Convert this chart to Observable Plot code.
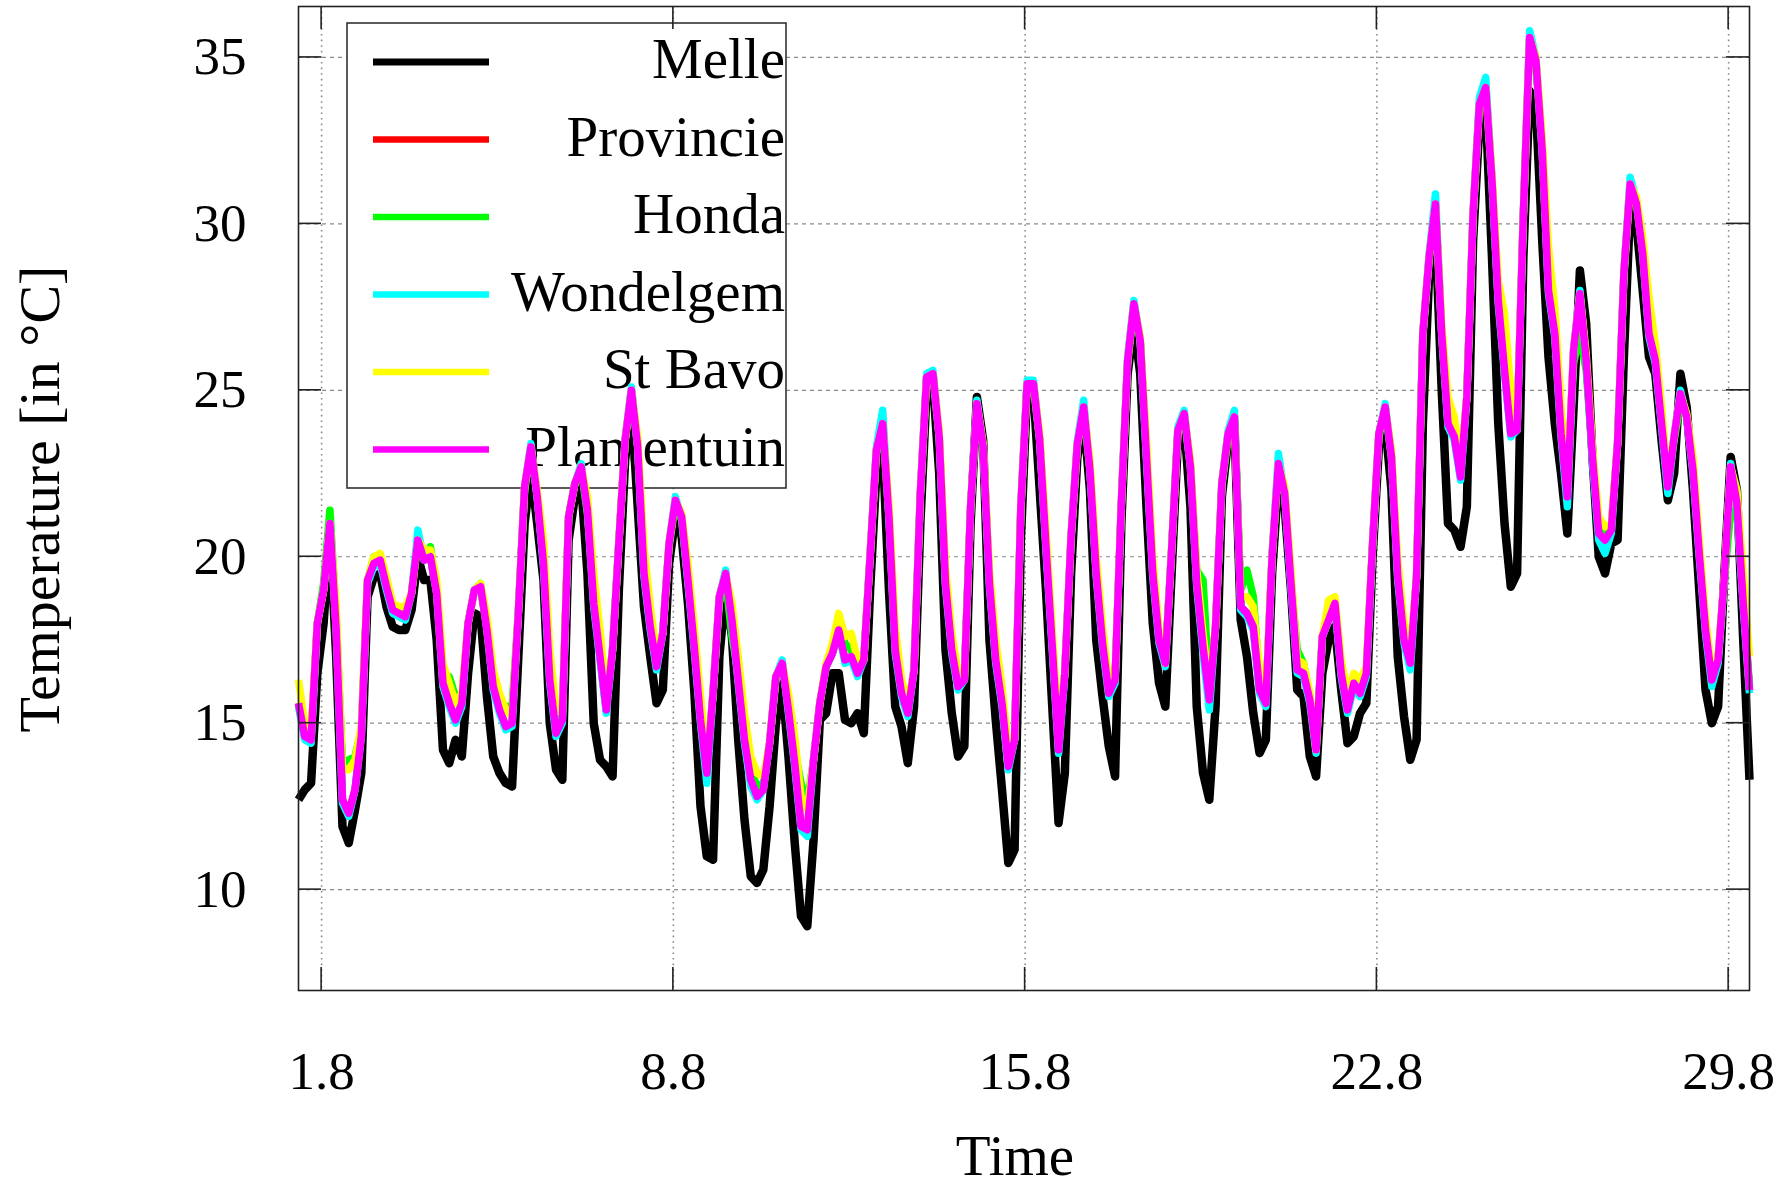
<!DOCTYPE html>
<html>
<head>
<meta charset="utf-8">
<script src="https://cdn.jsdelivr.net/npm/d3@7"></script>
<script src="https://cdn.jsdelivr.net/npm/@observablehq/plot@0.6"></script>
<style>
  html, body { margin: 0; padding: 0; background: #ffffff; }
  #chart { width: 1792px; height: 1189px; }
</style>
</head>
<body>
<div id="chart"></div>
<script>
// ---- sampling grid (3-hourly readings, in days of August) ----
const START_DAY = 0.54;
const STEP_DAYS = 0.125;

// ---- axis ticks ----
const xTicks = [1, 8, 15, 22, 29];
const xTickLabels = ["1.8", "8.8", "15.8", "22.8", "29.8"];
const yTicks = [10, 15, 20, 25, 30, 35];

// ---- series names (legend order = drawing order) ----
const stations = ["Melle", "Provincie", "Honda", "Wondelgem", "St Bavo", "Plantentuin"];

// ---- temperatures (°C) ----
const melle = [
  12.7, 13.0, 13.2, 16.5, 18.0, 20.8, 17.0, 11.9,
  11.4, 12.4, 13.5, 18.8, 19.4, 19.5, 18.5, 17.9,
  17.8, 17.8, 18.4, 20.0, 19.3, 19.3, 17.5, 14.2,
  13.8, 14.5, 14.0, 16.5, 18.3, 18.2, 15.8, 14.0,
  13.5, 13.2, 13.1, 17.0, 21.0, 22.6, 21.0, 19.3,
  15.0, 13.6, 13.3, 20.5, 21.8, 22.2, 19.5, 15.0,
  13.9, 13.7, 13.4, 19.0, 22.9, 24.6, 21.5, 18.5,
  17.0, 15.6, 16.0, 19.8, 21.2, 20.6, 18.6, 16.0,
  12.5, 11.0, 10.9, 17.0, 19.0, 17.6, 14.5, 12.1,
  10.4, 10.2, 10.6, 12.5, 15.0, 16.2, 14.0, 11.4,
  9.2, 8.9, 11.5, 15.1, 15.3, 16.5, 16.5, 15.1,
  15.0, 15.3, 14.7, 19.0, 22.5, 23.3, 19.0, 15.5,
  14.9, 13.8, 15.5, 21.0, 25.0, 25.3, 22.5, 17.2,
  15.3, 14.0, 14.3, 21.0, 24.8, 23.5, 17.5, 15.1,
  13.0, 10.8, 11.2, 20.5, 25.0, 25.0, 22.0, 19.0,
  15.5, 12.0, 13.5, 19.5, 23.0, 24.2, 22.0, 17.5,
  15.8, 14.3, 13.4, 21.0, 25.5, 27.0, 25.5, 21.5,
  18.0, 16.2, 15.5, 19.5, 23.5, 24.0, 21.5, 15.5,
  13.5, 12.7, 15.5, 21.8, 23.5, 24.0, 18.1, 17.0,
  15.3, 14.1, 14.5, 19.5, 22.3, 21.5, 19.0, 16.0,
  15.8, 14.0, 13.4, 16.5, 17.5, 17.9, 16.0, 14.4,
  14.6, 15.3, 15.6, 20.0, 23.3, 24.0, 22.0, 17.0,
  15.2, 13.9, 14.5, 24.0, 28.5, 29.8, 25.0, 21.0,
  20.8, 20.3, 21.5, 29.5, 33.0, 33.5, 29.0, 24.0,
  21.0, 19.1, 19.5, 29.0, 34.0, 33.5, 29.5, 26.0,
  24.0, 22.5, 20.7, 24.5, 28.6, 27.0, 23.0, 20.0,
  19.5, 20.4, 20.5, 26.0, 30.5, 30.0, 28.0, 26.0,
  25.5, 23.5, 21.7, 22.5, 25.5, 24.5, 22.0, 19.0,
  16.0, 15.0, 15.5, 19.5, 23.0, 22.0, 17.5, 13.3
];

const provincie = [
  15.6, 14.6, 14.5, 18.0, 19.0, 21.0, 17.8, 12.7,
  12.3, 13.0, 14.6, 19.3, 19.8, 19.9, 19.1, 18.4,
  18.3, 18.2, 18.9, 20.5, 19.9, 20.0, 18.9, 16.2,
  15.6, 15.1, 15.6, 18.0, 19.0, 19.1, 17.8, 16.1,
  15.4, 14.9, 15.0, 18.3, 22.1, 23.3, 21.8, 19.8,
  16.3, 14.7, 15.1, 21.2, 22.2, 22.7, 21.4, 18.6,
  17.0, 15.4, 17.2, 20.4, 23.5, 25.0, 23.3, 19.5,
  17.9, 16.7, 17.7, 20.4, 21.7, 21.2, 19.3, 17.3,
  15.1, 13.5, 15.9, 18.8, 19.5, 18.1, 16.3, 14.5,
  13.3, 12.8, 13.0, 14.4, 16.4, 16.8, 15.4, 13.8,
  11.9, 11.8, 13.9, 15.6, 16.7, 17.1, 17.8, 16.9,
  17.0, 16.5, 16.9, 20.0, 23.2, 24.0, 21.2, 17.2,
  15.9, 15.3, 16.6, 21.9, 25.4, 25.5, 23.6, 19.2,
  17.2, 16.1, 16.3, 21.5, 24.6, 23.3, 19.2, 16.9,
  15.6, 13.7, 14.5, 21.5, 25.2, 25.2, 23.5, 20.3,
  17.3, 14.2, 16.5, 20.6, 23.4, 24.5, 22.6, 19.5,
  17.4, 15.9, 16.3, 21.6, 25.9, 27.6, 26.5, 23.0,
  19.5, 17.5, 16.8, 20.2, 23.8, 24.3, 22.7, 19.2,
  17.3, 15.7, 17.9, 22.2, 23.7, 24.2, 18.5, 18.3,
  17.9, 16.0, 15.6, 20.0, 22.8, 21.9, 19.2, 16.6,
  16.5, 15.7, 14.2, 17.6, 18.1, 18.6, 16.5, 15.4,
  16.2, 15.9, 16.5, 20.4, 23.7, 24.5, 23.0, 19.4,
  17.5, 16.8, 19.4, 26.7, 29.0, 30.6, 26.7, 24.0,
  23.6, 22.4, 24.8, 30.3, 33.6, 34.1, 31.3, 27.7,
  25.6, 23.7, 23.8, 30.3, 35.6, 34.9, 32.2, 28.0,
  26.7, 23.7, 21.8, 26.2, 27.9, 25.9, 23.0, 20.7,
  20.5, 20.8, 23.4, 28.5, 31.2, 30.6, 29.1, 26.7,
  25.9, 24.0, 22.1, 23.6, 24.9, 24.2, 22.6, 20.1,
  17.8, 16.3, 16.9, 19.4, 22.7, 21.6, 18.6, 16.0
];

const honda = [
  15.6, 14.6, 14.5, 18.0, 19.2, 21.4, 18.2, 13.8,
  13.9, 14.0, 14.8, 19.3, 20.0, 20.0, 19.2, 18.4,
  18.3, 18.3, 18.9, 20.4, 20.0, 20.3, 19.0, 16.4,
  16.4, 15.8, 15.6, 18.0, 19.0, 19.1, 17.9, 16.3,
  15.6, 15.5, 15.5, 18.3, 22.0, 23.2, 21.8, 19.9,
  16.5, 14.9, 15.1, 21.2, 22.2, 22.6, 21.3, 19.0,
  17.2, 15.5, 17.2, 20.4, 23.5, 24.9, 23.3, 19.6,
  18.0, 16.8, 17.7, 20.3, 21.6, 21.1, 19.3, 17.4,
  15.2, 13.6, 15.9, 18.6, 19.3, 17.6, 16.5, 14.8,
  13.6, 13.1, 13.2, 14.4, 16.3, 16.7, 15.6, 14.2,
  13.2, 12.6, 13.9, 15.6, 16.7, 17.3, 18.2, 17.4,
  17.2, 16.6, 16.9, 20.0, 23.1, 23.9, 21.2, 17.4,
  16.0, 15.4, 16.6, 21.8, 25.3, 25.4, 23.6, 19.3,
  17.3, 16.2, 16.3, 21.4, 24.5, 23.3, 19.3, 17.1,
  15.8, 14.0, 14.5, 21.4, 25.1, 25.1, 23.5, 20.4,
  17.4, 14.4, 16.5, 20.5, 23.3, 24.4, 22.6, 19.6,
  17.5, 16.0, 16.3, 21.5, 25.8, 27.5, 26.5, 23.1,
  19.6, 17.6, 17.0, 20.2, 23.7, 24.2, 22.7, 19.6,
  19.3, 16.0, 17.9, 22.1, 23.6, 24.1, 19.0, 19.6,
  18.8, 16.3, 15.7, 20.0, 22.6, 21.9, 19.3, 17.2,
  16.8, 15.8, 14.3, 17.6, 18.1, 18.5, 16.6, 15.5,
  16.2, 16.0, 16.5, 20.3, 23.6, 24.4, 23.0, 19.5,
  17.6, 16.9, 19.4, 26.6, 28.9, 30.5, 26.7, 24.1,
  23.7, 22.5, 24.8, 30.2, 33.5, 34.0, 31.3, 27.8,
  25.8, 23.8, 23.8, 30.2, 35.4, 34.8, 32.2, 28.2,
  26.8, 23.8, 21.9, 25.8, 26.7, 25.6, 23.0, 20.8,
  20.6, 20.9, 23.4, 28.4, 31.1, 30.6, 29.2, 26.8,
  26.0, 24.1, 22.2, 23.5, 24.6, 24.2, 22.7, 20.2,
  17.9, 16.4, 16.9, 19.3, 21.4, 21.3, 18.7, 16.1
];

const wondelgem = [
  15.5, 14.5, 14.4, 18.0, 19.0, 21.0, 17.8, 12.6,
  12.2, 13.0, 14.6, 19.2, 19.7, 19.8, 19.0, 18.3,
  18.2, 18.1, 18.9, 20.8, 19.9, 20.0, 18.9, 16.1,
  15.5, 15.0, 15.5, 18.0, 19.0, 19.2, 17.8, 16.0,
  15.3, 14.8, 14.9, 18.3, 22.1, 23.4, 21.8, 19.7,
  16.2, 14.6, 15.0, 21.2, 22.2, 22.8, 21.4, 18.5,
  16.9, 15.3, 17.2, 20.4, 23.5, 25.1, 23.3, 19.4,
  17.8, 16.6, 17.7, 20.4, 21.8, 21.2, 19.2, 17.2,
  15.0, 13.2, 15.9, 18.8, 19.6, 18.1, 16.2, 14.4,
  13.1, 12.7, 13.0, 14.4, 16.4, 16.9, 15.3, 13.7,
  11.8, 11.6, 13.9, 15.6, 16.7, 17.1, 17.8, 16.8,
  16.9, 16.4, 16.9, 20.0, 23.3, 24.4, 21.2, 17.1,
  15.8, 15.2, 16.6, 21.9, 25.5, 25.6, 23.6, 19.1,
  17.1, 16.0, 16.3, 21.5, 24.7, 23.3, 19.1, 16.8,
  15.5, 13.6, 14.5, 21.5, 25.3, 25.3, 23.5, 20.2,
  17.2, 14.1, 16.5, 20.6, 23.5, 24.7, 22.6, 19.4,
  17.3, 15.8, 16.2, 21.6, 26.0, 27.7, 26.5, 22.9,
  19.4, 17.4, 16.7, 20.2, 23.9, 24.4, 22.7, 19.1,
  17.1, 15.4, 17.9, 22.2, 23.8, 24.4, 18.4, 18.2,
  17.8, 15.9, 15.5, 20.0, 23.1, 21.9, 19.1, 16.5,
  16.4, 15.6, 14.1, 17.6, 18.1, 18.6, 16.4, 15.3,
  16.1, 15.8, 16.4, 20.4, 23.7, 24.6, 23.0, 19.3,
  17.4, 16.6, 19.4, 26.7, 29.1, 30.9, 26.7, 23.9,
  23.5, 22.3, 24.8, 30.3, 33.8, 34.4, 31.3, 27.6,
  25.5, 23.6, 23.8, 30.3, 35.8, 35.0, 32.2, 27.9,
  26.6, 23.6, 21.5, 26.2, 28.0, 25.9, 22.9, 20.5,
  20.1, 20.7, 23.4, 28.5, 31.4, 30.7, 29.1, 26.6,
  25.8, 23.9, 21.9, 23.6, 25.0, 24.2, 22.5, 20.0,
  17.7, 16.1, 16.8, 19.4, 22.8, 21.5, 18.5, 15.9
];

const stBavo = [
  16.3, 15.0, 14.8, 18.0, 19.0, 21.0, 18.5, 13.6,
  13.6, 13.9, 14.9, 19.3, 20.0, 20.1, 19.4, 18.6,
  18.5, 18.5, 18.9, 20.5, 20.2, 20.2, 19.3, 16.8,
  16.2, 15.6, 15.9, 18.0, 19.0, 19.2, 18.2, 16.6,
  15.9, 15.4, 15.2, 18.3, 22.1, 23.3, 22.0, 20.5,
  17.2, 15.4, 15.3, 21.2, 22.2, 22.7, 21.8, 19.5,
  17.8, 15.8, 17.2, 20.4, 23.5, 25.0, 23.6, 20.3,
  18.5, 17.1, 17.7, 20.4, 21.7, 21.3, 19.8, 17.9,
  15.8, 13.8, 15.9, 18.8, 19.5, 18.6, 17.0, 15.3,
  14.0, 13.5, 13.4, 14.4, 16.4, 16.8, 15.9, 14.6,
  12.8, 12.4, 13.9, 15.6, 16.8, 17.4, 18.3, 17.6,
  17.7, 16.9, 16.9, 20.0, 23.2, 24.0, 21.6, 17.9,
  16.3, 15.6, 16.6, 21.9, 25.4, 25.5, 23.8, 19.7,
  17.7, 16.5, 16.3, 21.5, 24.6, 23.4, 19.6, 17.5,
  16.1, 14.2, 14.5, 21.5, 25.2, 25.2, 23.7, 20.8,
  17.8, 14.8, 16.5, 20.6, 23.4, 24.5, 22.9, 20.0,
  17.9, 16.2, 16.3, 21.6, 25.9, 27.6, 26.6, 23.5,
  20.0, 17.8, 16.8, 20.2, 23.8, 24.3, 22.9, 19.6,
  17.7, 16.0, 17.9, 22.2, 23.7, 24.2, 18.8, 18.8,
  18.5, 16.6, 15.9, 20.0, 22.8, 22.1, 19.6, 16.9,
  16.8, 15.9, 14.2, 17.6, 18.7, 18.8, 16.9, 15.9,
  16.5, 16.3, 16.7, 20.4, 23.7, 24.5, 23.2, 19.9,
  18.0, 17.2, 19.4, 26.7, 29.0, 30.6, 27.0, 24.8,
  24.2, 22.8, 24.8, 30.3, 33.6, 34.1, 31.5, 28.3,
  27.3, 25.0, 24.1, 30.3, 35.6, 35.0, 32.6, 29.3,
  27.5, 24.5, 22.0, 26.2, 27.9, 26.1, 23.3, 21.2,
  20.9, 21.0, 23.4, 28.5, 31.2, 30.8, 29.6, 27.8,
  26.4, 24.5, 22.3, 23.6, 24.9, 24.3, 23.0, 20.5,
  18.2, 16.5, 17.0, 19.4, 22.7, 22.0, 19.5, 17.0
];

const plantentuin = [
  15.6, 14.6, 14.5, 18.0, 19.0, 21.0, 17.8, 12.7,
  12.3, 13.0, 14.6, 19.3, 19.8, 19.9, 19.1, 18.4,
  18.3, 18.2, 18.9, 20.5, 19.9, 20.0, 18.9, 16.2,
  15.6, 15.1, 15.6, 18.0, 19.0, 19.1, 17.8, 16.1,
  15.4, 14.9, 15.0, 18.3, 22.1, 23.3, 21.8, 19.8,
  16.3, 14.7, 15.1, 21.2, 22.2, 22.7, 21.4, 18.6,
  17.0, 15.4, 17.2, 20.4, 23.5, 25.0, 23.3, 19.5,
  17.9, 16.7, 17.7, 20.4, 21.7, 21.2, 19.3, 17.3,
  15.1, 13.5, 15.9, 18.8, 19.5, 18.1, 16.3, 14.5,
  13.3, 12.8, 13.0, 14.4, 16.4, 16.8, 15.4, 13.8,
  11.9, 11.8, 13.9, 15.6, 16.7, 17.1, 17.8, 16.9,
  17.0, 16.5, 16.9, 20.0, 23.2, 24.0, 21.2, 17.2,
  15.9, 15.3, 16.6, 21.9, 25.4, 25.5, 23.6, 19.2,
  17.2, 16.1, 16.3, 21.5, 24.6, 23.3, 19.2, 16.9,
  15.6, 13.7, 14.5, 21.5, 25.2, 25.2, 23.5, 20.3,
  17.3, 14.2, 16.5, 20.6, 23.4, 24.5, 22.6, 19.5,
  17.4, 15.9, 16.3, 21.6, 25.9, 27.6, 26.5, 23.0,
  19.5, 17.5, 16.8, 20.2, 23.8, 24.3, 22.7, 19.2,
  17.3, 15.7, 17.9, 22.2, 23.7, 24.2, 18.5, 18.3,
  17.9, 16.0, 15.6, 20.0, 22.8, 21.9, 19.2, 16.6,
  16.5, 15.7, 14.2, 17.6, 18.1, 18.6, 16.5, 15.4,
  16.2, 15.9, 16.5, 20.4, 23.7, 24.5, 23.0, 19.4,
  17.5, 16.8, 19.4, 26.7, 29.0, 30.6, 26.7, 24.0,
  23.6, 22.4, 24.8, 30.3, 33.6, 34.1, 31.3, 27.7,
  25.6, 23.7, 23.8, 30.3, 35.6, 34.9, 32.2, 28.0,
  26.7, 23.7, 21.8, 26.2, 27.9, 25.9, 23.0, 20.7,
  20.5, 20.8, 23.4, 28.5, 31.2, 30.6, 29.1, 26.7,
  25.9, 24.0, 22.1, 23.6, 24.9, 24.2, 22.6, 20.1,
  17.8, 16.3, 16.9, 19.4, 22.7, 21.6, 18.6, 16.0
];

// ---- styling (kept apart from the data) ----
const seriesValues = [melle, provincie, honda, wondelgem, stBavo, plantentuin];
const colors = ["#000000", "#ff0000", "#00ff00", "#00ffff", "#ffff00", "#ff00ff"];
const widths = [8.5, 7.5, 7.5, 7.5, 7.5, 7.5];
const FONT = '"Liberation Serif", "Times New Roman", serif';

// tidy table built from the arrays
const rows = [];
stations.forEach((name, i) => {
  seriesValues[i].forEach((v, k) => rows.push({station: name, day: START_DAY + STEP_DAYS * k, temp: v}));
});
const lastDay = START_DAY + STEP_DAYS * (melle.length - 1);

const W = 1792, H = 1189, mL = 298, mR = 43, mT = 6, mB = 199;

const chart = Plot.plot({
  width: W,
  height: H,
  marginLeft: mL,
  marginRight: mR,
  marginTop: mT,
  marginBottom: mB,
  style: {fontFamily: FONT, fontSize: "53px", background: "#ffffff", color: "#000000"},
  x: {domain: [START_DAY, lastDay], axis: null},
  y: {domain: [6.97, 36.53], axis: null},
  marks: [
    Plot.gridY(yTicks, {stroke: "#8a8a8a", strokeOpacity: 1, strokeWidth: 1.2, strokeDasharray: "4,4"}),
    Plot.gridX(xTicks, {stroke: "#8a8a8a", strokeOpacity: 1, strokeWidth: 1.6, strokeDasharray: "1.6,4"}),
    Plot.axisX(xTicks, {
      anchor: "bottom", tickSize: 0, tickPadding: 61, label: null,
      tickFormat: d => xTickLabels[xTicks.indexOf(d)], fontSize: 53
    }),
    Plot.axisY(yTicks, {
      anchor: "left", tickSize: 0, tickPadding: 52, label: null,
      tickFormat: d => String(d), fontSize: 53
    }),
    ...stations.map((name, i) =>
      Plot.line(rows.filter(r => r.station === name), {
        x: "day", y: "temp", stroke: colors[i], strokeWidth: widths[i],
        strokeLinejoin: "round", strokeLinecap: "butt"
      })
    ),
    Plot.frame({stroke: "#222222", strokeWidth: 1.6})
  ]
});

document.getElementById("chart").appendChild(chart);

// ---- inward tick marks on all four sides, from the scales ----
const svg = d3.select(chart);
const xs = chart.scale("x"), ys = chart.scale("y");
const TICK = 23;
const tickG = svg.append("g").attr("stroke", "#222222").attr("stroke-width", 1.6);
xTicks.forEach(v => {
  const px = xs.apply(v);
  tickG.append("line").attr("x1", px).attr("x2", px).attr("y1", H - mB).attr("y2", H - mB - TICK);
  tickG.append("line").attr("x1", px).attr("x2", px).attr("y1", mT).attr("y2", mT + TICK);
});
yTicks.forEach(v => {
  const py = ys.apply(v);
  tickG.append("line").attr("x1", mL).attr("x2", mL + TICK).attr("y1", py).attr("y2", py);
  tickG.append("line").attr("x1", W - mR).attr("x2", W - mR - TICK).attr("y1", py).attr("y2", py);
});

// ---- axis titles ----
svg.append("text")
  .attr("transform", "translate(59,499) rotate(-90)")
  .attr("text-anchor", "middle")
  .attr("font-family", FONT).attr("font-size", 58).attr("fill", "#000")
  .text("Temperature [in °C]");
svg.append("text")
  .attr("x", 1015).attr("y", 1175)
  .attr("text-anchor", "middle")
  .attr("font-family", FONT).attr("font-size", 57).attr("fill", "#000")
  .text("Time");

// ---- legend box (under the data lines, over the grid) ----
const firstLine = chart.querySelector('g[aria-label="line"]');
const legend = d3.create("svg:g");
legend.append("rect")
  .attr("x", 347).attr("y", 23).attr("width", 439).attr("height", 465)
  .attr("fill", "#ffffff").attr("stroke", "#333333").attr("stroke-width", 1.6);
stations.forEach((name, i) => {
  const ry = 62 + 77.5 * i;
  legend.append("line")
    .attr("x1", 373).attr("x2", 489).attr("y1", ry).attr("y2", ry)
    .attr("stroke", colors[i]).attr("stroke-width", i === 0 ? 7 : 6.5);
  legend.append("text")
    .attr("x", 785).attr("y", ry + 16)
    .attr("text-anchor", "end")
    .attr("font-family", FONT).attr("font-size", 57).attr("fill", "#000")
    .text(name);
});
chart.insertBefore(legend.node(), firstLine);
</script>
</body>
</html>
